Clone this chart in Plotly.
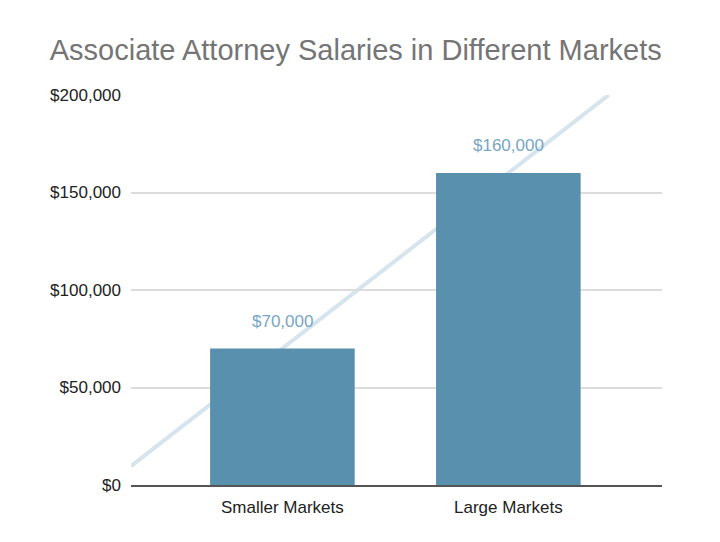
import numpy as np
import plotly.graph_objects as go

categories = ["Smaller Markets", "Large Markets"]
salaries = [70000, 160000]
label_text = ["$70,000", "$160,000"]
y_ticks = [0, 50000, 100000, 150000, 200000]
y_tick_labels = ["$0", "$50,000", "$100,000", "$150,000", "$200,000"]

x_pos = np.arange(len(categories))
FONT = "Arial, Liberation Sans, sans-serif"

# linear trendline through the bars, clipped at the top of the axis
slope, intercept = np.polyfit(x_pos, salaries, 1)
x_lo = -0.67
x_hi = (200000 - intercept) / slope

fig = go.Figure()

fig.add_trace(go.Bar(
    x=x_pos, y=salaries, width=0.64,
    marker=dict(color="#5890ae", line=dict(width=0)),
    showlegend=False, hoverinfo="y",
))

# trendline sits behind the bars
fig.add_shape(
    type="line", xref="x", yref="y",
    x0=x_lo, y0=slope * x_lo + intercept, x1=x_hi, y1=200000,
    line=dict(color="#d6e4ed", width=4), layer="below",
)

for xv, yv, txt in zip(x_pos, salaries, label_text):
    fig.add_annotation(
        x=xv, y=yv, text=txt, showarrow=False,
        yanchor="bottom", yshift=16,
        font=dict(color="#78a6c3", size=17, family=FONT),
    )

# page body adds 8px, so margins are shifted to compensate
fig.update_layout(
    width=720, height=542,
    margin=dict(l=123, r=66, t=87, b=65),
    paper_bgcolor="white", plot_bgcolor="white",
    title=dict(
        text="Associate Attorney Salaries in Different Markets",
        x=0.483, xanchor="center", y=0.922, yanchor="middle",
        font=dict(size=29, color="#757575", family=FONT),
    ),
    font=dict(family=FONT),
)

fig.update_xaxes(
    range=[-0.67, 1.68], automargin=False,
    tickvals=list(x_pos), ticktext=categories,
    tickfont=dict(size=17, color="#222222"),
    showgrid=False, zeroline=False,
    showline=True, linecolor="#555555", linewidth=1.5,
    ticks="", ticklabelstandoff=6,
)

fig.update_yaxes(
    range=[0, 200000], automargin=False,
    tickvals=y_ticks, ticktext=y_tick_labels,
    tickfont=dict(size=17, color="#222222"),
    showgrid=True, gridcolor="#dcdcdc", gridwidth=1.5,
    zeroline=False, ticks="", ticklabelstandoff=9,
)

fig.write_html("out.html")
